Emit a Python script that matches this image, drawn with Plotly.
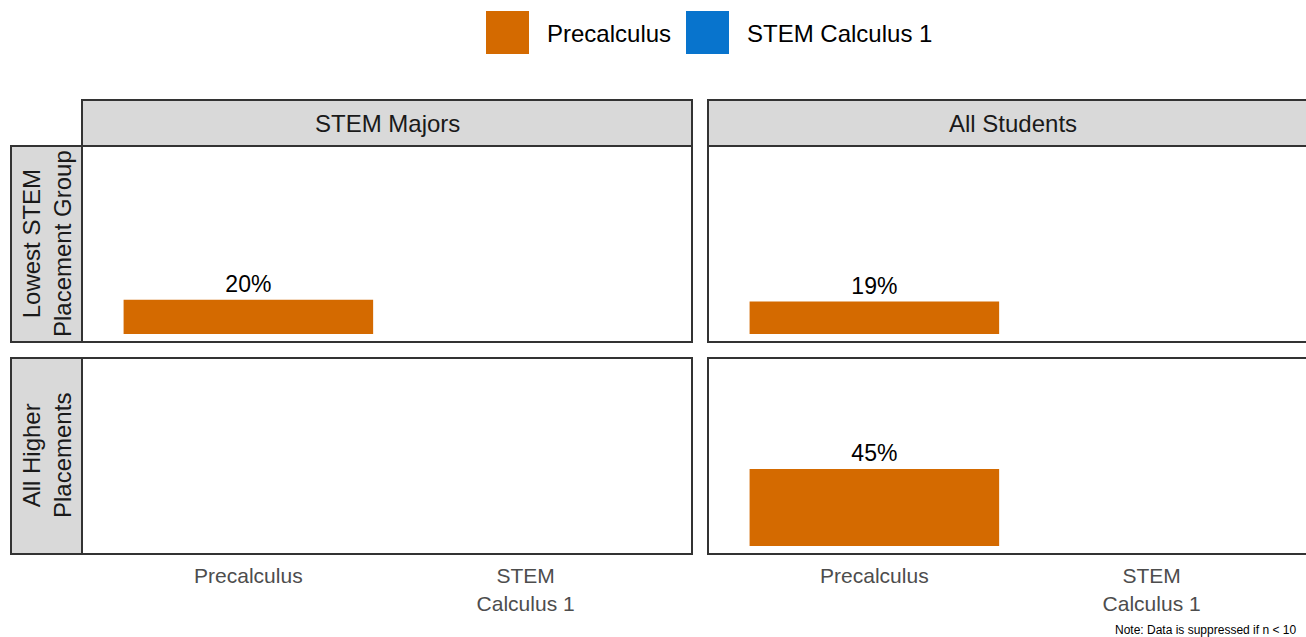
import plotly.graph_objects as go

# ---- data ----
courses = ["Precalculus", "STEM<br>Calculus 1"]
course_names = ["Precalculus", "STEM Calculus 1"]
course_colors = ["#D46A00", "#0874CD"]
col_groups = ["STEM Majors", "All Students"]
row_groups = ["Lowest STEM<br>Placement Group", "All Higher<br>Placements"]
precalc_vals = {("Lowest STEM<br>Placement Group", "STEM Majors"): 20,
                ("Lowest STEM<br>Placement Group", "All Students"): 19,
                ("All Higher<br>Placements", "STEM Majors"): None,
                ("All Higher<br>Placements", "All Students"): 45}
stemcalc_vals = {("Lowest STEM<br>Placement Group", "STEM Majors"): None,
                 ("Lowest STEM<br>Placement Group", "All Students"): None,
                 ("All Higher<br>Placements", "STEM Majors"): None,
                 ("All Higher<br>Placements", "All Students"): None}
note_text = "Note: Data is suppressed if n < 10"

W, H = 1306, 637
def px(x):
    return x / W
def py(y):
    return 1 - y / H

FONT = "Liberation Sans, Arial, sans-serif"
fig = go.Figure()

col_x = [(82, 692), (708, 1306)]
row_y = [(146, 342), (358, 554)]
unit = 610 / 2.2

layout_axes = {}
idx = 0
for r, rg in enumerate(row_groups):
    for c, cg in enumerate(col_groups):
        idx += 1
        xa = "x" if idx == 1 else f"x{idx}"
        ya = "y" if idx == 1 else f"y{idx}"
        series = [precalc_vals[(rg, cg)], stemcalc_vals[(rg, cg)]]
        for k in range(2):
            v = series[k]
            fig.add_trace(go.Bar(
                x=[courses[k]], y=[v], width=0.9,
                marker=dict(color=course_colors[k], line=dict(width=0)),
                text=[f"{v:.0f}%" if v is not None else ""],
                textposition="outside", cliponaxis=False,
                textfont=dict(size=23, color="black", family=FONT),
                showlegend=False, xaxis=xa, yaxis=ya))
        x0, x1 = col_x[c]
        y0, y1 = row_y[r]
        rng_hi = -0.6 + (x1 - x0) / unit
        layout_axes[("xaxis" if idx == 1 else f"xaxis{idx}")] = dict(
            domain=[px(x0), px(x1)], anchor=ya, type="category",
            categoryorder="array", categoryarray=courses,
            range=[-0.6, rng_hi], showgrid=False, zeroline=False,
            showline=False, ticks="outside", ticklen=3, tickcolor="rgba(0,0,0,0)",
            showticklabels=(r == 1),
            tickfont=dict(size=21, color="#4D4D4D", family=FONT))
        layout_axes[("yaxis" if idx == 1 else f"yaxis{idx}")] = dict(
            domain=[py(y1), py(y0)], anchor=xa, range=[-4.7, 110],
            showgrid=False, zeroline=False, showline=False, showticklabels=False,
            ticks="")

shapes = []
annotations = []
BORDER = "#333333"
STRIP = "#D9D9D9"
for (x0, x1) in [(82, 692), (708, 1330)]:
    for (y0, y1) in row_y:
        shapes.append(dict(type="rect", xref="paper", yref="paper",
                           x0=px(x0), x1=px(x1), y0=py(y1), y1=py(y0),
                           line=dict(color=BORDER, width=2), fillcolor="rgba(0,0,0,0)",
                           layer="above"))
    shapes.append(dict(type="rect", xref="paper", yref="paper",
                       x0=px(x0), x1=px(x1), y0=py(146), y1=py(100),
                       line=dict(color=BORDER, width=2), fillcolor=STRIP, layer="below"))
for c, cg in enumerate(col_groups):
    x0, x1 = (82, 692) if c == 0 else (708, 1318)
    annotations.append(dict(text=cg, xref="paper", yref="paper",
                            x=px((x0 + x1) / 2), y=py(123), showarrow=False,
                            xanchor="center", yanchor="middle",
                            font=dict(size=24, color="#1A1A1A", family=FONT)))
for r, rg in enumerate(row_groups):
    y0, y1 = row_y[r]
    shapes.append(dict(type="rect", xref="paper", yref="paper",
                       x0=px(11), x1=px(82), y0=py(y1), y1=py(y0),
                       line=dict(color=BORDER, width=2), fillcolor=STRIP, layer="below"))
    annotations.append(dict(text=rg, xref="paper", yref="paper",
                            x=px(47), y=py((y0 + y1) / 2), showarrow=False,
                            textangle=-90, xanchor="center", yanchor="middle",
                            font=dict(size=24, color="#1A1A1A", family=FONT)))

leg_x = [486, 686]
for k, name in enumerate(course_names):
    shapes.append(dict(type="rect", xref="paper", yref="paper",
                       x0=px(leg_x[k]), x1=px(leg_x[k] + 43), y0=py(54), y1=py(11),
                       line=dict(width=0), fillcolor=course_colors[k]))
    annotations.append(dict(text=name, xref="paper", yref="paper",
                            x=px(leg_x[k] + 59), y=py(33), showarrow=False,
                            xanchor="left", yanchor="middle",
                            font=dict(size=24, color="black", family=FONT)))

annotations.append(dict(text=note_text, xref="paper", yref="paper",
                        x=px(1113), y=py(630), showarrow=False,
                        xanchor="left", yanchor="middle",
                        font=dict(size=12, color="black", family=FONT)))

fig.update_layout(width=W, height=H, margin=dict(l=0, r=0, t=0, b=0),
                  plot_bgcolor="white", paper_bgcolor="white",
                  barmode="overlay", shapes=shapes, annotations=annotations,
                  font=dict(family=FONT), **layout_axes)

fig.write_html("out.html", config={"displayModeBar": False},
               post_script="document.body.style.margin='0';document.body.style.overflow='hidden';")
